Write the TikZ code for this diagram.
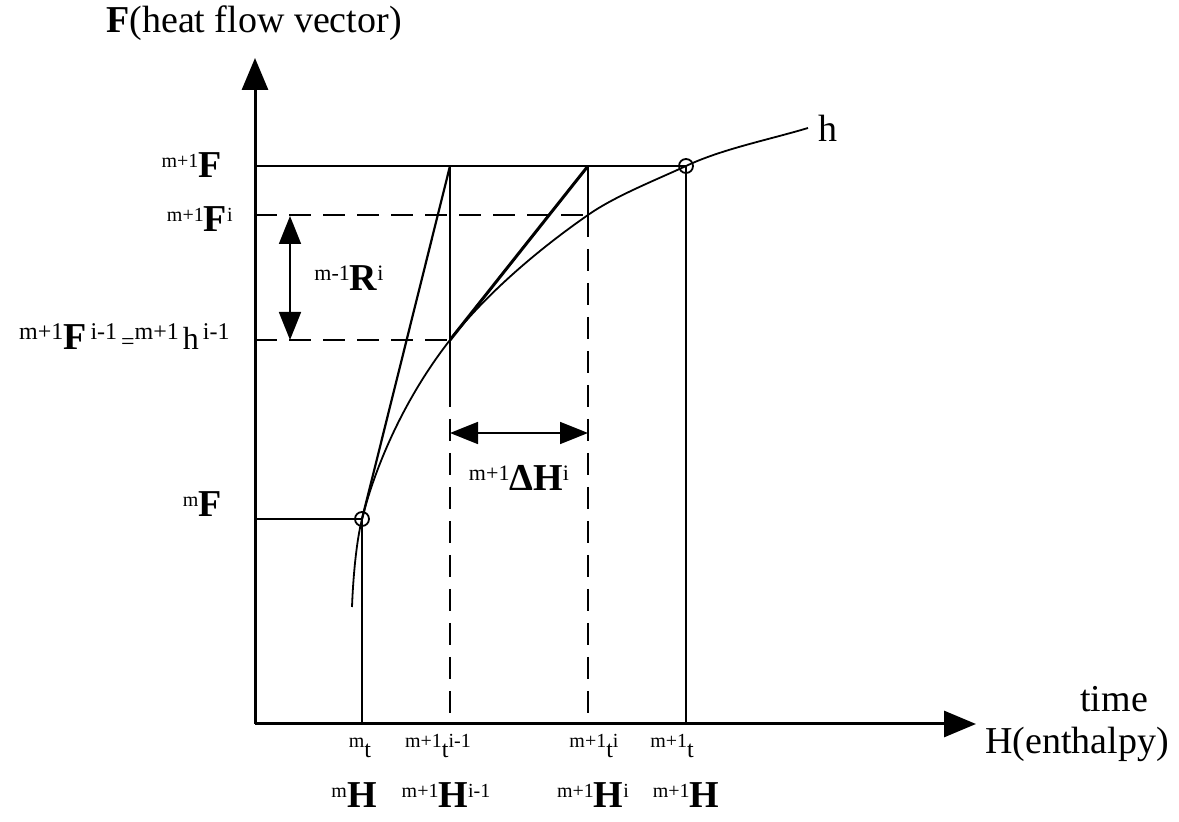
\documentclass[tikz,border=0pt]{standalone}
\usepackage{fontspec}
\setmainfont{Liberation Serif}
\usetikzlibrary{arrows.meta, positioning}

\newcommand{\up}[2][10]{\raisebox{5pt}{\fontsize{#1}{#1}\selectfont #2}}
\newcommand{\sm}[1]{{\fontsize{12}{12}\selectfont #1}}
\newcommand{\bm}[1]{{\fontsize{19}{19}\selectfont\bfseries #1}}

\begin{document}
\begin{tikzpicture}[
    x=0.5pt, y=-0.5pt,
    axis/.style={line width=1.5pt, -{Triangle[length=16pt, width=13pt]}},
    guide/.style={line width=0.9pt},
    dashline/.style={line width=0.9pt, dash pattern=on 11pt off 6pt},
    tangent/.style={line width=1.1pt},
    dimarrow/.style={line width=0.9pt, {Triangle[length=14pt, width=11pt]}-{Triangle[length=14pt, width=11pt]}},
    knot/.style={circle, draw, line width=0.9pt, minimum size=7pt, inner sep=0pt},
    lbl/.style={font=\fontsize{19}{22}\selectfont, inner sep=0pt}
]
    \useasboundingbox (0,0) rectangle (1179,822);

    % axes
    \coordinate (O) at (255,724);
    \coordinate (ytip) at (255,58);
    \coordinate (xtip) at (976,724);
    \draw[axis] (O) -- (ytip);
    \draw[axis] (O) -- (xtip);

    % points on h
    \coordinate (p0) at (362,519);
    \coordinate (p1) at (450,340);
    \coordinate (p2) at (588,215);
    \coordinate (p3) at (686,166);
    \coordinate (q0) at (450,166);
    \coordinate (q1) at (588,166);
    \coordinate (hstart) at (352,607);
    \coordinate (hend) at (808,128);
    \coordinate (s1) at (450,385);

    % levels of F
    \draw[guide] (O |- p3) -- (p3);
    \draw[dashline] (O |- p2) -- (p2);
    \draw[dashline] (O |- p1) -- (p1);
    \draw[guide] (O |- p0) -- (p0);

    % times
    \draw[guide] (p0) -- (p0 |- O);
    \draw[guide] (q0) -- (s1);
    \draw[dashline] (s1) -- (s1 |- O);
    \draw[guide] (q1) -- (p2);
    \draw[dashline] (p2) -- (p2 |- O);
    \draw[guide] (p3) -- (p3 |- O);

    % tangents
    \draw[tangent] (p0) -- (q0);
    \draw[tangent, line width=1.5pt] (p1) -- (q1);

    % curve h
    \draw[guide] (hstart) .. controls (353,580) and (356,543) .. (p0)
        .. controls (378,456) and (410,391) .. (p1)
        .. controls (487,293) and (539,249) .. (p2)
        .. controls (615,196) and (656,180) .. (p3)
        .. controls (722,149) and (768,140) .. (hend);
    \node[knot] (k0) at (p0) {};
    \node[knot] (k3) at (p3) {};
    \node[lbl, right=5pt of hend] (hlab) {h};

    % residual and increment
    \coordinate (ra) at (290,216);
    \coordinate (rb) at (290,340);
    \draw[dimarrow] (ra) -- (rb) coordinate[midway] (rm);
    \node[lbl, right=12pt of rm] (rlab) {\up[11]{m-1}\bm{R}\up[11]{i}};
    \coordinate (da) at (450,433);
    \coordinate (db) at (588,433);
    \draw[dimarrow] (da) -- (db) coordinate[midway] (dm);
    \node[lbl, below=16pt of dm] (dlab) {\up[11]{m+1}\bm{Δ}\bm{H}\up[11]{i}};

    % axis titles
    \node[lbl, anchor=base] (ylab) at (254,33) {\bm{F}(heat flow vector)};
    \node[lbl, anchor=base west] (tlab) at (1080,712) {time};
    \node[lbl, anchor=base west] (xlab) at (985,754) {H(enthalpy)};

    % F labels
    \node[lbl, anchor=base east] (f3) at (222,178) {\up{m+1}\bm{F}};
    \node[lbl, anchor=base east] (f2) at (233,232) {\up{m+1}\bm{F}\up{i}};
    \node[lbl, anchor=base east] (f1) at (230,350) {\up[12]{m+1}\bm{F}\up[12]{\,i-1\,}\sm{=}\up[12]{m+1\,}{\fontsize{16}{16}\selectfont h}\up[12]{\,i-1}};
    \node[lbl, anchor=base east] (f0) at (222,517) {\up{m}\bm{F}};

    % t and H labels
    \node[lbl, anchor=base] (t0) at (360,758) {\up{m}\sm{t}};
    \node[lbl, anchor=base] (t1) at (438,758) {\up{m+1}\sm{t}\up{i-1}};
    \node[lbl, anchor=base] (t2) at (594,758) {\up{m+1}\sm{t}\up{i}};
    \node[lbl, anchor=base] (t3) at (672,758) {\up{m+1}\sm{t}};
    \node[lbl, anchor=base] (H0) at (354,808) {\up{m}\bm{H}};
    \node[lbl, anchor=base] (H1) at (446,808) {\up{m+1}\bm{H}\up{i-1}};
    \node[lbl, anchor=base] (H2) at (593,808) {\up{m+1}\bm{H}\up{i}};
    \node[lbl, anchor=base] (H3) at (686,808) {\up{m+1}\bm{H}};
\end{tikzpicture}
\end{document}
